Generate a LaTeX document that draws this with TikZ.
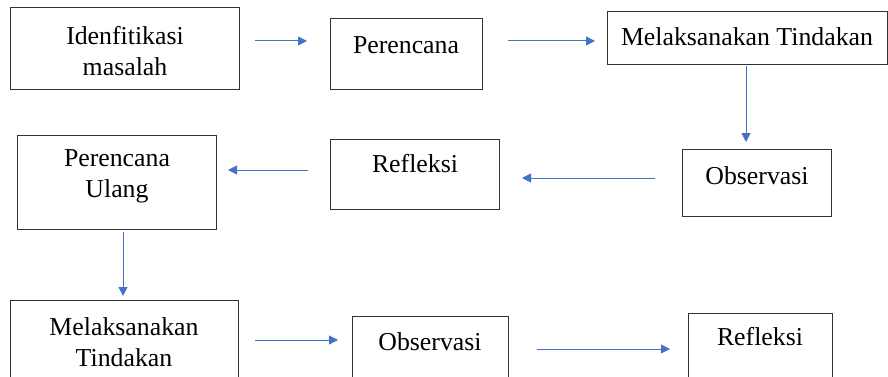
\documentclass[tikz,border=0pt]{standalone}
\usepackage{fontspec}
\setmainfont{Liberation Serif}
\usetikzlibrary{calc,arrows.meta}
\definecolor{arrowblue}{HTML}{4472C4}
\definecolor{boxline}{HTML}{333333}
\tikzset{
  box/.style={draw=boxline, line width=0.9pt, anchor=north west, inner sep=0pt, outer sep=0pt},
  txt/.style={font=\fontsize{25.8}{31}\selectfont, align=center, inner sep=0pt},
  arr/.style={draw=arrowblue, line width=1pt, -{Triangle[length=9pt,width=9pt]}}
}
\begin{document}
\begin{tikzpicture}[x=1pt,y=-1pt]
\useasboundingbox (0,0) rectangle (888,377);
\clip (0,0) rectangle (888,377);
% boxes
\node[box, minimum width=229pt, minimum height=82pt] (b1) at (10,7) {};
\node[box, minimum width=152pt, minimum height=71pt] (b2) at (330,18) {};
\node[box, minimum width=280pt, minimum height=53pt] (b3) at (607,11) {};
\node[box, minimum width=149pt, minimum height=67pt] (b4) at (682,149) {};
\node[box, minimum width=169pt, minimum height=70pt] (b5) at (330,139) {};
\node[box, minimum width=199pt, minimum height=94pt] (b6) at (17,135) {};
\node[box, minimum width=228pt, minimum height=100pt] (b7) at (10,300) {};
\node[box, minimum width=156pt, minimum height=80pt] (b8) at (352,316) {};
\node[box, minimum width=144pt, minimum height=80pt] (b9) at (688,313) {};
% texts
\node[txt] (t1) at (125,51) {Idenfitikasi\\masalah};
\node[txt] (t2) at (406,45) {Perencana};
\node[txt] (t3) at (747,37) {Melaksanakan Tindakan};
\node[txt] (t4) at (757,176) {Observasi};
\node[txt] (t5) at (415,164) {Refleksi};
\node[txt] (t6) at (117,176) {Perencana\\Ulang};
\node[txt] (t7) at (124,342) {Melaksanakan\\Tindakan};
\node[txt] (t8) at (430,342) {Observasi};
\node[txt] (t9) at (760,337) {Refleksi};
% arrows
\draw[arr] ($(b1.north east)+(16,34)$) -- ($(b2.north west)+(-23,23)$);
\draw[arr] ($(b2.north east)+(26,23)$) -- ($(b3.north west)+(-12,30)$);
\draw[arr] ($(b3.south west)+(139,2)$) -- ($(b4.north west)+(64,-7)$);
\draw[arr] ($(b4.north west)+(-27,29)$) -- ($(b5.north east)+(23,39)$);
\draw[arr] ($(b5.north west)+(-22,31)$) -- ($(b6.north east)+(12,35)$);
\draw[arr] ($(b6.south west)+(106,3)$) -- ($(b7.north west)+(113,-4)$);
\draw[arr] ($(b7.north east)+(17,40)$) -- ($(b8.north west)+(-14,24)$);
\draw[arr] ($(b8.north east)+(29,33)$) -- ($(b9.north west)+(-18,36)$);
\end{tikzpicture}
\end{document}
